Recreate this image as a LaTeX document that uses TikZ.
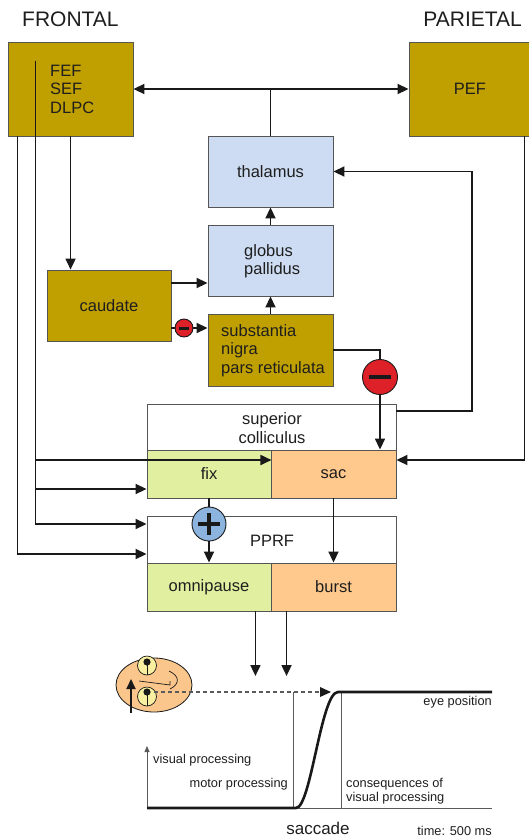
\documentclass[tikz,border=0pt]{standalone}
\usepackage{fontspec}
\setmainfont{Liberation Sans}
\usetikzlibrary{arrows.meta,calc}
\definecolor{cortexc}{RGB}{192,160,0}
\definecolor{basalc}{RGB}{205,220,242}
\definecolor{fixc}{RGB}{224,240,160}
\definecolor{sacc}{RGB}{255,200,140}
\definecolor{boxline}{RGB}{85,85,85}
\definecolor{linec}{RGB}{25,25,25}
\definecolor{textc}{RGB}{30,30,30}
\definecolor{inhibc}{RGB}{222,32,40}
\definecolor{excitc}{RGB}{140,180,222}
\definecolor{facec}{RGB}{250,198,140}
\definecolor{eyec}{RGB}{248,240,160}
\definecolor{chartc}{RGB}{90,90,90}
\begin{document}
\begin{tikzpicture}[x=1pt,y=-1pt,
  box/.style={draw=boxline, line width=0.9pt, inner sep=0pt, text=textc,
    font=\fontsize{16.5}{18.5}\selectfont},
  label/.style={inner sep=0pt, text=textc, font=\fontsize{16.5}{18.5}\selectfont, align=left},
  region/.style={inner sep=0pt, text=textc, font=\fontsize{21}{24}\selectfont},
  conn/.style={line width=1.8pt, draw=linec},
  arr/.style={conn, -{Triangle[length=11pt,width=10pt]}},
  sign/.style={circle, draw=linec, line width=0.9pt, inner sep=0pt},
  small/.style={inner sep=0pt, text=textc, font=\fontsize{12.8}{14}\selectfont, align=left},
  thin/.style={draw=chartc, line width=0.8pt}
]
\useasboundingbox (0,0) rectangle (529,838);

% region titles
\node[region, anchor=base west] (ftitle) at (22,26) {FRONTAL};
\node[region, anchor=base east] (ptitle) at (522,26) {PARIETAL};

% cortical areas
\node[box, fill=cortexc, minimum width=125pt, minimum height=94pt] (frontal) at (70.5,89) {};
\node[label, anchor=west] (frontaltxt) at (50,89) {FEF\\SEF\\DLPC};
\node[box, fill=cortexc, minimum width=122pt, minimum height=94pt] (pef) at (470,89) {PEF};

% basal ganglia and thalamus
\node[box, fill=basalc, minimum width=125pt, minimum height=71pt] (thalamus) at (270.5,171.5) {thalamus};
\node[box, fill=basalc, minimum width=125pt, minimum height=71pt] (globus) at (270.5,260.5) {};
\node[label, anchor=west] (globustxt) at (244,261) {globus\\pallidus};
\node[box, fill=cortexc, minimum width=125pt, minimum height=72pt] (snr) at (270.5,350) {};
\node[label, anchor=west] (snrtxt) at (221,350.5) {substantia\\nigra\\pars reticulata};
\node[box, fill=cortexc, minimum width=124pt, minimum height=71pt] (caudate) at (109,305.5) {caudate};

% superior colliculus
\node[box, fill=white, minimum width=249pt, minimum height=46pt] (sc) at (271.5,427) {};
\node[label, align=center] (sctxt) at (272,428) {superior\\colliculus};
\node[box, fill=fixc, minimum width=124pt, minimum height=48pt] (fix) at (209,474) {fix};
\node[box, fill=sacc, minimum width=125pt, minimum height=48pt] (sac) at (333.5,474) {sac};

% paramedian pontine reticular formation
\node[box, fill=white, minimum width=249pt, minimum height=47pt] (pprf) at (271.5,539.5) {};
\node[label] (pprftxt) at (272,541) {PPRF};
\node[box, fill=fixc, minimum width=124pt, minimum height=48pt] (omni) at (209,587) {omnipause};
\node[box, fill=sacc, minimum width=125pt, minimum height=48pt] (burst) at (333.5,587) {burst};

% cortex <-> thalamus loop
\draw[conn, {Triangle[length=11pt,width=10pt]}-{Triangle[length=11pt,width=10pt]}] (frontal.east) -- (pef.west);
\draw[conn] (thalamus.north) -- (thalamus.north |- frontal.east);

% frontal -> caudate
\draw[arr] ([xshift=63pt]frontal.south west) -- ([xshift=63pt]frontal.south west |- caudate.north);

% caudate -> globus pallidus / substantia nigra
\coordinate (cg) at ([yshift=22.5pt]caudate.east);
\draw[arr] (cg) -- (cg -| globus.west);
\node[sign, fill=inhibc, minimum size=18pt] (minusA) at (184,328) {};
\fill[linec] ([xshift=-5pt,yshift=-1.5pt]minusA.center) rectangle ([xshift=5pt,yshift=1.5pt]minusA.center);
\draw[conn] (caudate.east |- minusA) -- (minusA);
\draw[arr] (minusA) -- (minusA -| snr.west);

% basal ganglia -> thalamus
\draw[arr] (snr.north) -- (globus.south);
\draw[arr] (globus.north) -- (thalamus.south);

% substantia nigra inhibits saccade cells
\node[sign, fill=inhibc, minimum size=35pt] (minusB) at (380,377) {};
\fill[linec] ([xshift=-11pt,yshift=-2.2pt]minusB.center) rectangle ([xshift=11pt,yshift=2.2pt]minusB.center);
\draw[conn] (snr.east) -| (minusB.north);
\draw[arr] (minusB.south) -- (minusB |- sac.north);

% colliculus -> thalamus
\coordinate (loopR) at (472,0);
\draw[arr] ([yshift=16pt]sc.east) -| (loopR |- thalamus.east) -- (thalamus.east);

% PEF -> sac
\draw[arr] ([xshift=-7pt]pef.south east) |- ([yshift=14pt]sac.east);

% frontal descending pathways
\coordinate (fin) at ([xshift=28pt,yshift=-19pt]frontal.north west);
\draw[conn] (fin) -- (fin |- frontal.south);
\draw[arr] (fin) |- ([yshift=15.5pt]pprf.west);
\draw[arr] ([xshift=10pt]frontal.south west) |- ([yshift=-14.5pt]pprf.west);
\coordinate (fa) at ([yshift=14pt]fix.east);
\draw[arr] (fa -| fin) -- (fa);
\coordinate (fb) at ([yshift=-15pt]fix.west);
\draw[arr] (fb -| fin) -- (fb);

% fix excites omnipause
\node[sign, fill=excitc, minimum size=34pt] (plus) at (209,524) {};
\fill[linec] ([xshift=-11pt,yshift=-2.2pt]plus.center) rectangle ([xshift=11pt,yshift=2.2pt]plus.center);
\fill[linec] ([xshift=-2.2pt,yshift=-11pt]plus.center) rectangle ([xshift=2.2pt,yshift=11pt]plus.center);
\draw[conn] (fix.south) -- (plus.north);
\draw[arr] (plus.south) -- (omni.north);

% sac -> burst
\draw[arr] (sac.south) -- (burst.north);

% brainstem output
\coordinate (outA) at ([xshift=-16pt]omni.south east);
\coordinate (outB) at ([xshift=16pt]burst.south west);
\coordinate (outY) at (0,676);
\draw[arr] (outA) -- (outA |- outY);
\draw[arr] (outB) -- (outB |- outY);

% ---- eye movement trace ----
% face
\draw[draw=linec, line width=0.8pt, fill=facec] (154,685) ellipse [x radius=38pt, y radius=27pt];
\draw[draw=linec, line width=0.7pt, fill=eyec] (147,665.5) circle [radius=9.5pt];
\fill[linec] (147,662) circle [radius=3.6pt];
\draw[linec, line width=0.7pt] (147,662) -- (147,675);
\draw[draw=linec, line width=0.7pt, fill=eyec] (147,696.5) circle [radius=9.5pt];
\fill[linec] (147,692) circle [radius=3.6pt];
\draw[linec, line width=0.7pt] (147,692) -- (147,706);
\draw[linec, line width=0.7pt] (139,681) -- (170,685) -- (170,681);
\draw[linec, line width=0.7pt] (169,671) .. controls (180,676) and (180,684) .. (170,689);
\draw[linec, line width=2pt, -{Triangle[length=10pt,width=9pt]}] (131,713) -- (131,679);

% gaze target
\draw[draw=chartc, line width=1.2pt, dash pattern=on 4pt off 3pt] (154,692) -- (322,692);
\fill[linec] (331,692) -- (320,687) -- (320,697) -- cycle;

% axes and event markers
\draw[thin] (147,808) -- (492,808);
\draw[thin, -{Triangle[length=6pt,width=5pt]}] (147,808) -- (147,746);
\draw[thin] (293,692) -- (293,808);
\draw[thin] (341,692) -- (341,808);

% eye position
\draw[linec, line width=2.6pt] (147,808) -- (296,808)
  .. controls (311,808) and (321,692) .. (338,692) -- (492,692);

% chart labels
\node[small, anchor=base west] (lvis) at (153,763) {visual processing};
\node[small, anchor=base east] (lmot) at (288,787) {motor processing};
\node[small, anchor=base west] (lcon) at (346,787) {consequences of};
\node[small, anchor=base west] (lcon2) at (346,801) {visual processing};
\node[small, anchor=base east] (leye) at (492,705) {eye position};
\node[inner sep=0pt, text=textc, font=\fontsize{17}{20}\selectfont, anchor=base] (lsac) at (318,834) {saccade};
\node[small, anchor=base east] (ltime) at (492,835) {time: 500 ms};
\end{tikzpicture}
\end{document}
